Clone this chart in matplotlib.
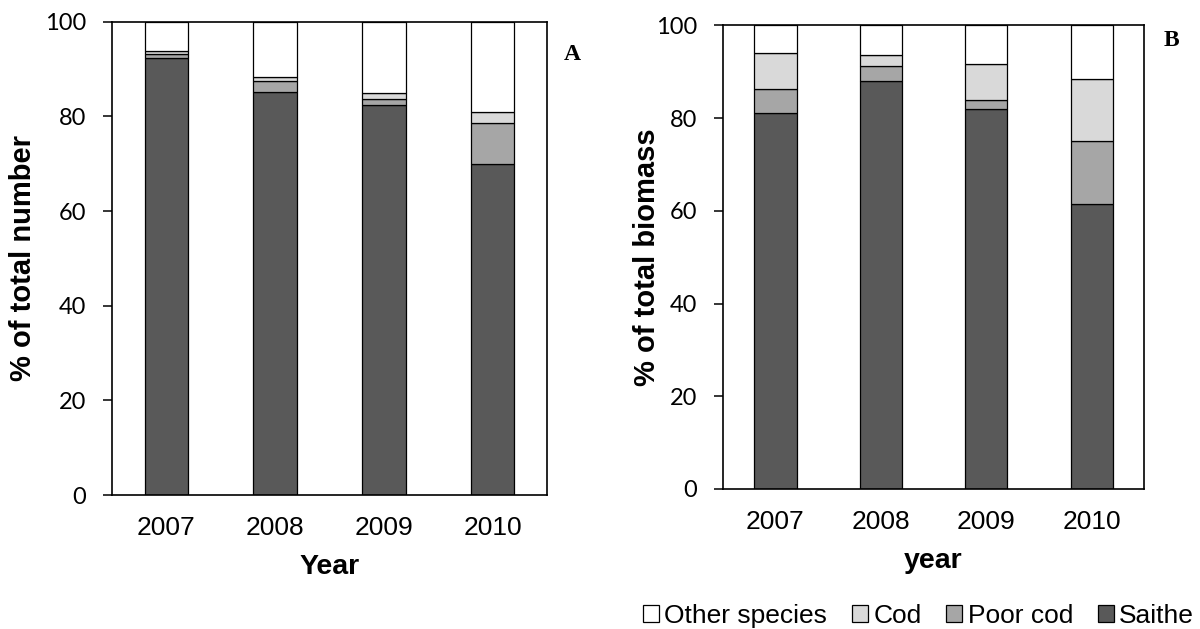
"""Stacked bar plots of catch composition, by number (A) and by biomass (B)."""

import matplotlib as mpl
import numpy as np
from matplotlib import patches as mpatches
from matplotlib import pyplot as plt

mpl.use("Agg")
plt.rcParams["font.family"] = ["Liberation Sans", "DejaVu Sans"]

YEARS = ["2007", "2008", "2009", "2010"]
SPECIES = ["Saithe", "Poor cod", "Cod", "Other species"]
CLR = ["#595959", "#a6a6a6", "#d9d9d9", "#ffffff"]

# % of total number (panel A)
saithe_num = [92.3, 85.1, 82.5, 70.0]
poorcod_num = [0.8, 2.3, 1.2, 8.7]
cod_num = [0.7, 0.9, 1.3, 2.3]
other_num = [6.2, 11.7, 15.0, 19.0]

# % of total biomass (panel B)
saithe_bio = [81.2, 88.1, 82.0, 61.5]
poorcod_bio = [5.2, 3.2, 2.0, 13.6]
cod_bio = [7.7, 2.4, 7.6, 13.4]
other_bio = [5.9, 6.3, 8.4, 11.5]


def stacked(ax, layers, ylabel, xlabel, ylabelpad):
    x = np.arange(len(YEARS))
    bottom = np.zeros(len(YEARS))
    for vals, c in zip(layers, CLR, strict=True):
        ax.bar(x, vals, 0.4, bottom=bottom, color=c, edgecolor="k", linewidth=0.9)
        bottom += np.asarray(vals)
    ax.set_xlim(-0.5, len(YEARS) - 0.5)
    ax.set_ylim(0, 100)
    ax.set_xticks(x, YEARS, fontsize=19)
    ax.set_yticks(np.arange(0, 101, 20))
    for lab in ax.get_yticklabels():
        lab.set_fontfamily("Lato")
        lab.set_fontsize(17)
    ax.tick_params(axis="x", length=0, pad=15)
    ax.tick_params(axis="y", length=6.5, width=1.1, pad=12)
    for s in ax.spines.values():
        s.set_linewidth(1.2)
    ax.set_ylabel(ylabel, fontsize=21, fontweight="bold", labelpad=ylabelpad)
    ax.set_xlabel(xlabel, fontsize=20.5, fontweight="bold", labelpad=10)


def main():
    fig = plt.figure(figsize=(12, 6.29), dpi=100)
    ax_a = fig.add_axes([0.0933, 0.2130, 0.3625, 0.7525])
    ax_b = fig.add_axes([0.6023, 0.2226, 0.3513, 0.7369])
    stacked(
        ax_a,
        [saithe_num, poorcod_num, cod_num, other_num],
        "% of total number",
        "Year",
        5.5,
    )
    stacked(
        ax_b,
        [saithe_bio, poorcod_bio, cod_bio, other_bio],
        "% of total biomass",
        "year",
        -4,
    )
    fig.text(572 / 1200, 1 - 55 / 629, "A", family="Liberation Serif",
             fontweight="bold", fontsize=17, ha="center", va="center")
    fig.text(1171 / 1200, 1 - 40 / 629, "B", family="Liberation Serif",
             fontweight="bold", fontsize=17, ha="center", va="center")

    handles = [
        mpatches.Patch(facecolor=CLR[i], edgecolor="k", linewidth=0.9)
        for i in (3, 2, 1, 0)
    ]
    labels = [SPECIES[i] for i in (3, 2, 1, 0)]
    fig.legend(
        handles,
        labels,
        loc="center right",
        bbox_to_anchor=(1194 / 1200, 1 - 616 / 629),
        ncol=4,
        frameon=False,
        fontsize=19,
        handlelength=0.6,
        handleheight=0.6,
        handletextpad=0.2,
        columnspacing=0.95,
        borderpad=0,
        borderaxespad=0,
    )
    fig.savefig("out.png", dpi=100)
    plt.close("all")


if __name__ == "__main__":
    main()
